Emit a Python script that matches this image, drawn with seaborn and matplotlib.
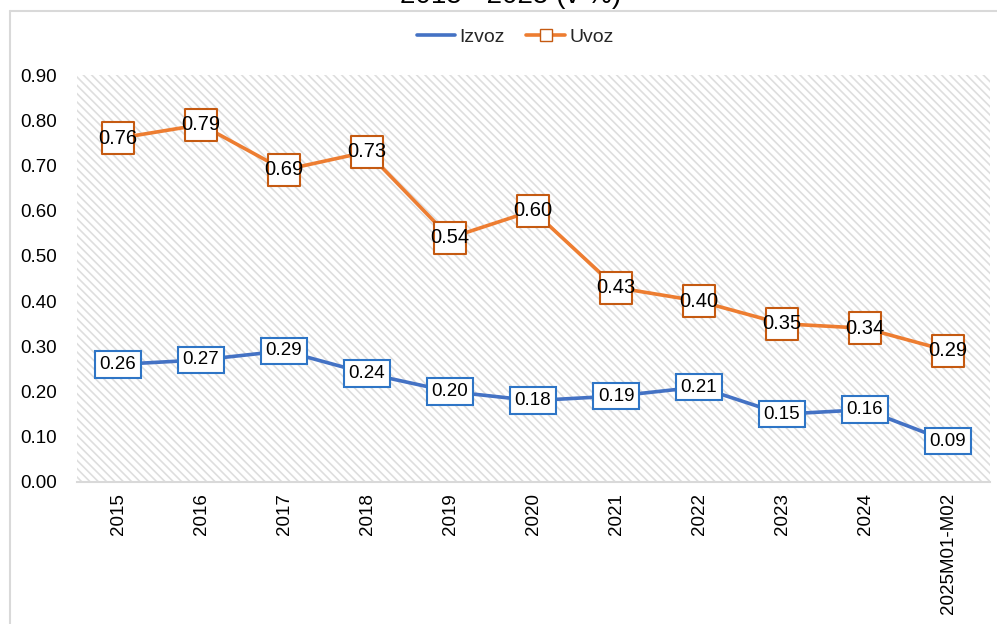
import matplotlib
matplotlib.use("Agg")
import matplotlib.pyplot as plt
from matplotlib.lines import Line2D
from matplotlib.patches import Rectangle
import numpy as np
import pandas as pd
import seaborn as sns

# data
periods = ['2015', '2016', '2017', '2018', '2019', '2020', '2021', '2022', '2023', '2024', '2025M01-M02']
izvoz = [0.26, 0.27, 0.29, 0.24, 0.20, 0.18, 0.19, 0.21, 0.15, 0.16, 0.09]
uvoz = [0.76, 0.79, 0.69, 0.73, 0.54, 0.60, 0.43, 0.40, 0.35, 0.34, 0.29]
series_names = ['Izvoz', 'Uvoz']
title = '2015 - 2025 (v %)'

blue = '#4472C4'
orange = '#ED7D31'
colors = {'Izvoz': blue, 'Uvoz': orange}

sns.set_style('white')
plt.rcParams['font.family'] = ['Liberation Sans', 'DejaVu Sans']
plt.rcParams['hatch.linewidth'] = 1.2

pos = np.arange(len(periods))
df = pd.DataFrame({
    'pos': np.concatenate([pos, pos]),
    'value': izvoz + uvoz,
    'series': ['Izvoz'] * len(izvoz) + ['Uvoz'] * len(uvoz),
})

fig = plt.figure(figsize=(9.97, 6.24), dpi=100)
ax = fig.add_axes([76.5 / 997, 1 - 482 / 624, 913 / 997, 407 / 624])

# hatched plot area
ax.add_patch(Rectangle((0, 0), 1, 1, transform=ax.transAxes, facecolor='white',
                       edgecolor='#dedede', linewidth=0, hatch='\\\\\\\\', zorder=0))

sns.lineplot(data=df, x='pos', y='value', hue='series', palette=colors,
             linewidth=2.6, legend=False, sort=False, ax=ax, zorder=2)
sns.scatterplot(data=df[df.series == 'Uvoz'], x='pos', y='value', marker='s', s=560,
                color='white', edgecolor='#C55A11', linewidth=1.5, legend=False, ax=ax, zorder=3)

for x, v in zip(pos, izvoz):
    ax.text(x, v, f'{v:.2f}', ha='center', va='center', fontsize=13.5, color='black', zorder=4,
            bbox=dict(boxstyle='square,pad=0.25', facecolor='white', edgecolor='#2E75C6', linewidth=1.5))
for x, v in zip(pos, uvoz):
    ax.text(x, v, f'{v:.2f}', ha='center', va='center', fontsize=14.5, color='black', zorder=4)

ax.set_xlim(-0.5, len(periods) - 0.5)
ax.set_ylim(0, 0.9)
ax.set_yticks(np.arange(0, 0.91, 0.1))
ax.set_yticklabels([f'{t:.2f}' for t in np.arange(0, 0.91, 0.1)])
ax.set_xticks(pos)
ax.set_xticklabels(periods, rotation=90)
ax.tick_params(axis='y', length=0, pad=14, labelsize=13.5, labelcolor='black')
ax.tick_params(axis='x', length=0, pad=8, labelsize=13.5, labelcolor='black')
ax.set_xlabel('')
ax.set_ylabel('')
for side in ['top', 'right', 'left']:
    ax.spines[side].set_visible(False)
ax.spines['bottom'].set_color('#d9d9d9')
ax.spines['bottom'].set_linewidth(1.5)

# chart frame (partly outside the picture)
fig.add_artist(Line2D([10 / 997, 10 / 997], [0, 1 - 11 / 624], color='#d9d9d9', lw=1.5))
fig.add_artist(Line2D([10 / 997, 1], [1 - 11 / 624, 1 - 11 / 624], color='#d9d9d9', lw=1.5))

# title sits mostly above the picture, as in the reference
fig.text(511 / 997, 1 - 3 / 624, title, ha='center', va='baseline', fontsize=20, color='black')

handles = [
    Line2D([], [], color=blue, lw=2.6),
    Line2D([], [], color=orange, lw=2.6, marker='s', markersize=8,
           markerfacecolor='white', markeredgecolor='#C55A11'),
]
fig.legend(handles, series_names, loc='center', bbox_to_anchor=(515 / 997, 1 - 37 / 624),
           ncol=2, frameon=False, fontsize=14, handlelength=2.0, handletextpad=0.2,
           columnspacing=1.1)

fig.savefig('out.png', dpi=100)
